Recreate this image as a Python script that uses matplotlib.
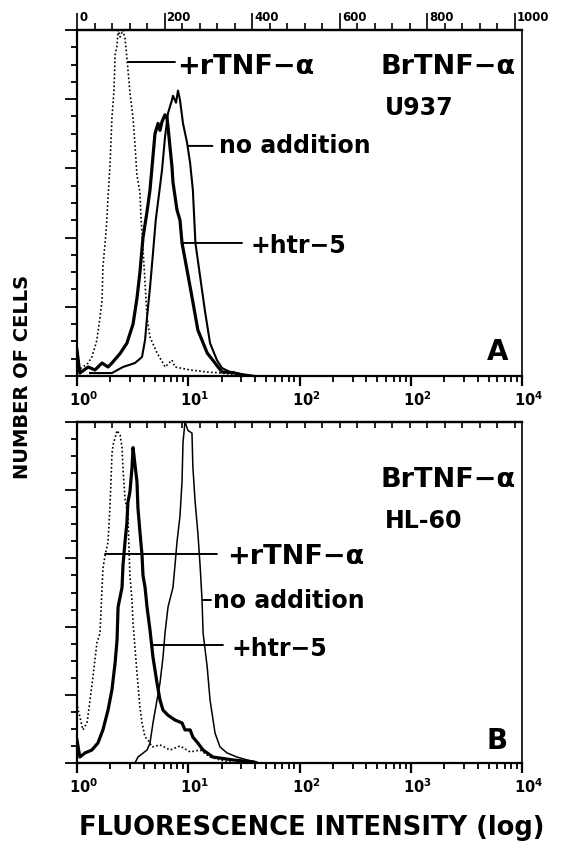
import matplotlib
matplotlib.use('Agg')
import matplotlib.pyplot as plt
import matplotlib.transforms as mtransforms
from matplotlib.ticker import FixedLocator, MultipleLocator, LogLocator, NullFormatter

plt.rcParams['font.family'] = ['DejaVu Sans']
plt.rcParams['mathtext.fontset'] = 'dejavusans'

# ---------------- data (fluorescence intensity, number of cells) ----------------
# Panel A: U937
A_rtnf_x = [1.0, 1.13, 1.26, 1.36, 1.45, 1.51, 1.54, 1.61, 1.68, 1.71, 1.82, 1.86, 1.90, 1.98,
            2.06, 2.15, 2.20, 2.29, 2.34, 2.44, 2.59, 2.70, 2.81, 2.99, 3.19, 3.32, 3.46, 3.68,
            3.76, 3.84, 4.09, 4.26, 4.53, 5.24, 5.93, 6.18, 7.14, 7.60, 10.4, 14.8, 20.1, 32.4]
A_rtnf_y = [0.3, 0.52, 0.75, 1.1, 1.68, 2.08, 2.5, 3.4, 4.39, 6.3, 8.27, 9.2, 10.3, 12.2,
            14.9, 16.5, 18.55, 19.1, 20.0, 19.6, 20.0, 19.5, 18.4, 16.4, 14.9, 13.35, 11.6, 10.6,
            9.2, 8.27, 5.4, 3.4, 2.25, 1.33, 0.75, 0.52, 0.92, 0.52, 0.35, 0.23, 0.17, 0.0]

A_htr_x = [1.0, 1.06, 1.26, 1.45, 1.68, 1.90, 2.06, 2.44, 2.81, 3.19, 3.46, 3.68, 3.92,
           4.26, 4.53, 4.82, 5.02, 5.35, 5.57, 5.81, 6.18, 6.44, 6.58, 6.86, 7.14, 7.29, 7.92,
           8.43, 8.79, 9.75, 10.8, 12.2, 14.8, 17.4, 20.1, 25.2, 32.4]
A_htr_y = [1.5, 0.17, 0.52, 0.35, 0.75, 0.52, 0.75, 1.3, 1.9, 3.0, 4.5, 6.0, 8.0,
           9.5, 10.75, 12.7, 14.0, 14.6, 14.2, 14.7, 15.1, 14.9, 14.4, 13.2, 12.1, 11.2, 9.6,
           9.0, 7.69, 6.13, 4.57, 2.66, 1.33, 0.75, 0.23, 0.2, 0.0]

A_none_x = [1.31, 1.61, 2.06, 2.59, 3.32, 3.84, 4.09, 4.26, 4.53, 4.82, 5.1, 5.81, 6.18, 6.58,
            7.14, 7.29, 7.76, 8.09, 8.43, 8.97, 9.75, 10.4, 11.0, 11.3, 11.6, 12.8, 14.1, 15.7,
            18.1, 20.1, 23.7, 31.1, 40.0]
A_none_y = [0.17, 0.17, 0.17, 0.52, 0.75, 1.1, 2.08, 3.4, 5.1, 7.1, 9.0, 11.9, 13.8, 15.2,
            15.95, 16.2, 15.8, 16.5, 15.95, 14.6, 13.5, 12.3, 10.75, 9.2, 7.69, 5.72, 3.8, 1.9,
            0.92, 0.46, 0.23, 0.1, 0.0]

# Panel B: HL-60
B_rtnf_x = [1.01, 1.13, 1.23, 1.31, 1.39, 1.51, 1.61, 1.68, 1.71, 1.79, 1.90, 1.98, 2.02, 2.06,
            2.11, 2.29, 2.44, 2.54, 2.59, 2.70, 2.87, 2.92, 2.99, 3.12, 3.19, 3.46, 3.68, 3.84,
            4.09, 4.35, 4.72, 5.57, 6.86, 8.43, 10.4, 12.8, 15.7, 19.3, 26.2]
B_rtnf_y = [3.3, 1.94, 2.35, 3.7, 5.04, 7.04, 7.62, 10.3, 11.4, 12.2, 12.96, 15.1, 16.5, 18.1,
            18.65, 19.5, 19.24, 18.5, 17.3, 15.5, 14.5, 12.96, 11.0, 9.56, 8.2, 5.28, 3.28, 2.35,
            1.52, 1.35, 0.94, 1.06, 0.76, 1.0, 0.65, 0.76, 0.35, 0.18, 0.0]

B_htr_x = [1.0, 1.06, 1.18, 1.36, 1.54, 1.71, 1.90, 2.06, 2.20, 2.29, 2.34, 2.54, 2.59, 2.70,
           2.81, 2.87, 2.99, 3.12, 3.19, 3.32, 3.46, 3.53, 3.68, 3.84, 3.92, 4.09, 4.26, 4.53,
           4.82, 5.24, 5.57, 5.93, 6.58, 7.60, 8.79, 9.35, 10.4, 11.0, 12.2, 13.6, 16.7, 25.2, 38.2]
B_htr_y = [1.35, 0.35, 0.59, 0.76, 1.17, 1.94, 3.1, 4.28, 5.87, 7.2, 9.15, 10.3, 11.6, 12.96,
           14.1, 15.3, 15.9, 17.3, 18.5, 17.5, 16.5, 14.95, 13.55, 12.2, 11.0, 10.3, 9.15, 7.8,
           6.2, 4.69, 3.7, 3.1, 2.8, 2.52, 2.35, 1.94, 1.94, 1.52, 1.17, 0.76, 0.35, 0.18, 0.06]

B_none_x = [3.32, 3.53, 4.26, 4.53, 4.82, 5.24, 5.57, 5.93, 6.18, 6.58, 7.29, 7.60, 7.92, 8.43,
            8.79, 8.97, 9.35, 9.95, 10.8, 11.0, 11.5, 12.2, 12.8, 13.3, 13.6, 14.8, 15.7, 17.4,
            19.3, 22.3, 27.4, 33.7, 41.5]
B_none_y = [0.0, 0.35, 0.76, 1.17, 2.35, 3.7, 4.69, 6.2, 7.62, 9.15, 10.3, 11.6, 12.96, 14.5,
            16.5, 18.8, 20.0, 19.5, 19.35, 17.4, 15.4, 13.5, 11.5, 9.56, 7.62, 5.63, 3.7, 1.76,
            0.94, 0.59, 0.35, 0.18, 0.06]

# axis ticks / labels
log_ticks = [1, 10, 100, 1000, 10000]
A_tick_labels = [r'$\mathbf{10^{0}}$', r'$\mathbf{10^{1}}$', r'$\mathbf{10^{2}}$',
                 r'$\mathbf{10^{2}}$', r'$\mathbf{10^{4}}$']
B_tick_labels = [r'$\mathbf{10^{0}}$', r'$\mathbf{10^{1}}$', r'$\mathbf{10^{2}}$',
                 r'$\mathbf{10^{3}}$', r'$\mathbf{10^{4}}$']
channel_ticks = [0, 200, 400, 600, 800, 1000]
channel_labels = ['0', '200', '400', '600', '800', '1000']

# ---------------- figure ----------------
W, H = 564, 855
fig = plt.figure(figsize=(W / 100, H / 100), dpi=100)
axA = fig.add_axes([77 / W, 1 - 376 / H, 445 / W, 346 / H])
axB = fig.add_axes([77 / W, 1 - 763 / H, 445 / W, 341 / H])


def style(ax, labels):
    ax.set_xscale('log')
    ax.set_xlim(1, 1e4)
    ax.set_ylim(0, 20)
    ax.xaxis.set_major_locator(FixedLocator(log_ticks))
    ax.xaxis.set_minor_locator(LogLocator(base=10, subs=range(2, 10), numticks=20))
    ax.xaxis.set_minor_formatter(NullFormatter())
    ax.set_xticklabels(labels)
    ax.tick_params(axis='x', which='major', direction='out', length=7.5, width=1.6,
                   pad=3, labelsize=10.5)
    ax.tick_params(axis='x', which='minor', direction='out', length=4, width=1.3)
    ax.yaxis.set_major_locator(MultipleLocator(4))
    ax.yaxis.set_minor_locator(MultipleLocator(1))
    ax.tick_params(axis='y', which='major', direction='out', length=9, width=1.3,
                   labelleft=False)
    ax.tick_params(axis='y', which='minor', direction='out', length=4.5, width=1.3)
    for s in ['left', 'bottom', 'top']:
        ax.spines[s].set_linewidth(1.6)
    ax.spines['right'].set_linewidth(1.2)
    off = mtransforms.ScaledTranslation(-8 / 100, 0, fig.dpi_scale_trans)
    for lbl in ax.get_xticklabels():
        lbl.set_horizontalalignment('left')
        lbl.set_transform(lbl.get_transform() + off)


style(axA, A_tick_labels)
style(axB, B_tick_labels)

# top linear channel axes
tA = axA.twiny()
tA.set_xlim(0, 1016)
tA.xaxis.set_major_locator(FixedLocator(channel_ticks))
tA.xaxis.set_minor_locator(MultipleLocator(40))
tA.set_xticklabels(channel_labels)
tA.tick_params(axis='x', which='major', direction='out', length=12, width=1.2,
               pad=-8, labelsize=8.5)
tA.tick_params(axis='x', which='minor', direction='out', length=5, width=1.2)
off2 = mtransforms.ScaledTranslation(2 / 100, 0, fig.dpi_scale_trans)
for lbl in tA.get_xticklabels():
    lbl.set_horizontalalignment('left')
    lbl.set_fontweight('bold')
    lbl.set_transform(lbl.get_transform() + off2)
for s in ['left', 'right', 'bottom']:
    tA.spines[s].set_visible(False)
tA.spines['top'].set_linewidth(1.6)

tB = axB.twiny()
tB.set_xlim(0, 1016)
tB.xaxis.set_major_locator(MultipleLocator(40))
tB.tick_params(axis='x', which='major', direction='in', length=4, width=1.2,
               labeltop=False)
for s in ['left', 'right', 'bottom']:
    tB.spines[s].set_visible(False)
tB.spines['top'].set_linewidth(1.6)

# ---------------- curves ----------------
dot = dict(color='black', lw=1.2, linestyle=(0, (1, 1.4)))
axA.plot(A_rtnf_x, A_rtnf_y, **dot)
axA.plot(A_none_x, A_none_y, color='black', lw=1.5)
axA.plot(A_htr_x, A_htr_y, color='black', lw=2.3)

axB.plot(B_rtnf_x, B_rtnf_y, **dot)
axB.plot(B_none_x, B_none_y, color='black', lw=1.1)
axB.plot(B_htr_x, B_htr_y, color='black', lw=2.3)

# ---------------- annotations ----------------
lab = dict(fontsize=17, fontweight='bold', color='black', va='baseline', ha='left')
big = dict(lab, fontsize=19.5)
line = dict(arrowstyle='-', color='black', lw=1.4, shrinkA=0, shrinkB=0)

# Panel A
axA.annotate('', xy=(2.87, 18.15), xytext=(7.6, 18.15), arrowprops=line)
axA.text(7.92, 17.45, '+rTNF\u2212\u03b1', **big)
axA.text(530, 17.45, 'BrTNF\u2212\u03b1', **big)
axA.text(590, 15.1, 'U937', **lab)
axA.annotate('', xy=(9.95, 13.3), xytext=(16.5, 13.3), arrowprops=line)
axA.text(18.9, 12.9, 'no addition', **lab)
axA.annotate('', xy=(8.79, 7.69), xytext=(30.4, 7.69), arrowprops=line)
axA.text(35.9, 7.1, '+htr\u22125', **lab)
axA.text(4845, 0.9, 'A', fontsize=20, fontweight='bold', ha='left', va='baseline')

# Panel B
axB.text(530, 16.2, 'BrTNF\u2212\u03b1', **big)
axB.text(590, 13.8, 'HL-60', **lab)
axB.annotate('', xy=(1.79, 12.26), xytext=(18.1, 12.26), arrowprops=line)
axB.text(22.3, 11.65, '+rTNF\u2212\u03b1', **big)
axB.annotate('', xy=(13.3, 9.56), xytext=(16.0, 9.56), arrowprops=line)
axB.text(16.7, 9.1, 'no addition', **lab)
axB.annotate('', xy=(4.72, 6.92), xytext=(20.5, 6.92), arrowprops=line)
axB.text(24.7, 6.3, '+htr\u22125', **lab)
axB.text(4845, 0.8, 'B', fontsize=20, fontweight='bold', ha='left', va='baseline')

# axis titles
fig.text(312 / W, 1 - 828 / H, 'FLUORESCENCE INTENSITY (log)', fontsize=18.5,
         fontweight='bold', ha='center', va='center')
fig.text(23 / W, 1 - 377 / H, 'NUMBER OF CELLS', fontsize=14, fontweight='bold',
         rotation=90, ha='center', va='center')

fig.savefig('out.png', dpi=100)
